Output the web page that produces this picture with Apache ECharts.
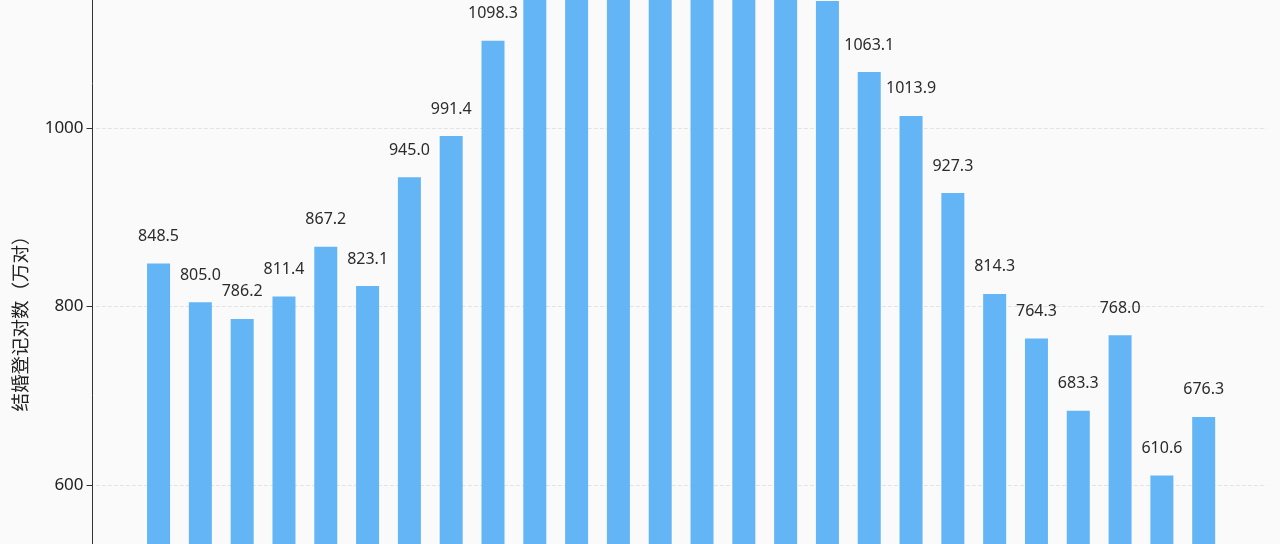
<!DOCTYPE html>
<html>
<head>
<meta charset="utf-8">
<script src="https://cdn.jsdelivr.net/npm/echarts@6/dist/echarts.min.js"></script>
<style>
html,body{margin:0;padding:0;width:1280px;height:544px;overflow:hidden;background:#fafafa;}
#chart{position:absolute;left:0;top:-300px;width:1280px;height:1400px;}
</style>
</head>
<body>
<div id="chart"></div>
<script>
const years = [2000,2001,2002,2003,2004,2005,2006,2007,2008,2009,2010,2011,2012,2013,2014,2015,2016,2017,2018,2019,2020,2021,2022,2023,2024,2025];
const marriages = [848.5,805.0,786.2,811.4,867.2,823.1,945.0,991.4,1098.3,1212.4,1241.0,1302.4,1323.6,1346.9,1306.7,1224.7,1142.8,1063.1,1013.9,927.3,814.3,764.3,683.3,768.0,610.6,676.3];
const yTicks = [0,200,400,600,800,1000,1200,1400];
const yName = '结婚登记对数（万对）';

const chart = echarts.init(document.getElementById('chart'));
const fontFam = '"Noto Sans","Noto Sans CJK SC",sans-serif';
chart.setOption({
  backgroundColor: '#fafafa',
  animation: false,
  grid: {left: 95.85, right: 13.6, top: 71.6, bottom: 80},
  xAxis: {
    type: 'value', min: 1998.5, max: 2026.5, interval: 1,
    splitLine: {show: false},
    axisLine: {show: true, lineStyle: {color: '#333'}},
    axisTick: {show: false},
    axisLabel: {show: false}
  },
  yAxis: {
    type: 'value', min: yTicks[0], max: yTicks[yTicks.length-1], interval: 200,
    offset: 3.3,
    axisLine: {show: true, lineStyle: {color: '#333', width: 1}},
    axisTick: {show: true, length: 6, lineStyle: {color: '#333'}},
    axisLabel: {color: '#222', fontSize: 17, fontFamily: fontFam, margin: 9, formatter: v => String(v)},
    splitLine: {show: true, lineStyle: {color: '#e3e3e3', type: 'dashed'}}
  },
  graphic: [{
    type: 'text', x: 22, y: 619, rotation: Math.PI/2,
    style: {text: yName, fontSize: 18.5, fontFamily: fontFam, fill: '#222', textAlign: 'center', textVerticalAlign: 'middle'}
  }],
  series: [{
    type: 'bar',
    barWidth: 23,
    data: years.map((y,i) => [y, marriages[i]]),
    itemStyle: {color: '#64b5f6'},
    label: {
      show: true, position: 'top', distance: 19,
      fontSize: 16, fontFamily: fontFam, color: '#2b2b2b',
      formatter: p => p.value[1].toFixed(1)
    }
  }]
});
</script>
</body>
</html>
